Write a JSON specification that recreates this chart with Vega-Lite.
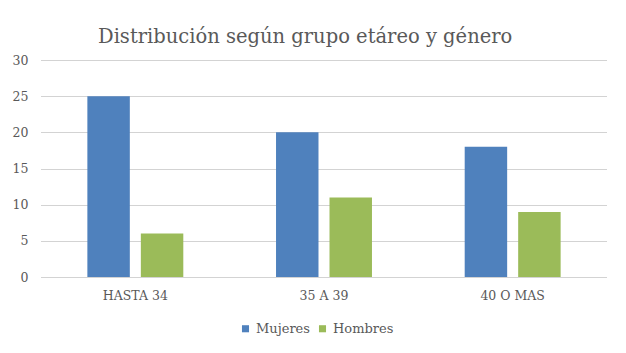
{
  "$schema": "https://vega.github.io/schema/vega-lite/v6.json",
  "autosize": "none",
  "width": 566,
  "height": 217,
  "padding": {"left": 41, "top": 60, "right": 19, "bottom": 76},
  "background": "white",
  "title": {
    "text": "Distribución según grupo etáreo y género",
    "anchor": "start",
    "frame": "group",
    "dx": 57,
    "offset": 7,
    "font": "DejaVu Serif",
    "fontSize": 19.5,
    "fontWeight": "normal",
    "color": "#595959"
  },
  "data": {
    "values": [
      {"grupo": "HASTA 34", "genero": "Mujeres", "valor": 25},
      {"grupo": "HASTA 34", "genero": "Hombres", "valor": 6},
      {"grupo": "35 A 39", "genero": "Mujeres", "valor": 20},
      {"grupo": "35 A 39", "genero": "Hombres", "valor": 11},
      {"grupo": "40 O MAS", "genero": "Mujeres", "valor": 18},
      {"grupo": "40 O MAS", "genero": "Hombres", "valor": 9}
    ]
  },
  "mark": {"type": "bar"},
  "encoding": {
    "x": {
      "field": "grupo",
      "type": "nominal",
      "sort": ["HASTA 34", "35 A 39", "40 O MAS"],
      "scale": {"paddingInner": 0, "paddingOuter": 0},
      "axis": {
        "title": null,
        "labelAngle": 0,
        "domain": false,
        "ticks": false,
        "labelPadding": 12,
        "labelFont": "DejaVu Serif",
        "labelFontSize": 12.5,
        "labelColor": "#595959"
      }
    },
    "xOffset": {
      "field": "genero",
      "type": "nominal",
      "sort": ["Mujeres", "Hombres"],
      "scale": {"paddingInner": 0.206, "paddingOuter": 0.867}
    },
    "y": {
      "field": "valor",
      "type": "quantitative",
      "scale": {"domain": [0, 30]},
      "axis": {
        "title": null,
        "values": [0, 5, 10, 15, 20, 25, 30],
        "domain": false,
        "ticks": false,
        "labelPadding": 13,
        "labelFont": "DejaVu Serif",
        "labelFontSize": 12.5,
        "labelColor": "#595959",
        "grid": true,
        "gridColor": "#a6a6a6",
        "gridDash": [1, 1],
        "gridWidth": 1
      }
    },
    "color": {
      "field": "genero",
      "type": "nominal",
      "sort": ["Mujeres", "Hombres"],
      "scale": {"domain": ["Mujeres", "Hombres"], "range": ["#4f81bd", "#9bbb59"]},
      "legend": {
        "title": null,
        "orient": "none",
        "direction": "horizontal",
        "legendX": 198,
        "legendY": 262,
        "symbolType": "square",
        "symbolSize": 50,
        "symbolStrokeWidth": 0,
        "labelFont": "DejaVu Serif",
        "labelFontSize": 13,
        "labelColor": "#595959",
        "columnPadding": 6,
        "labelOffset": 4
      }
    }
  },
  "config": {"view": {"stroke": null}, "font": "DejaVu Serif"}
}
